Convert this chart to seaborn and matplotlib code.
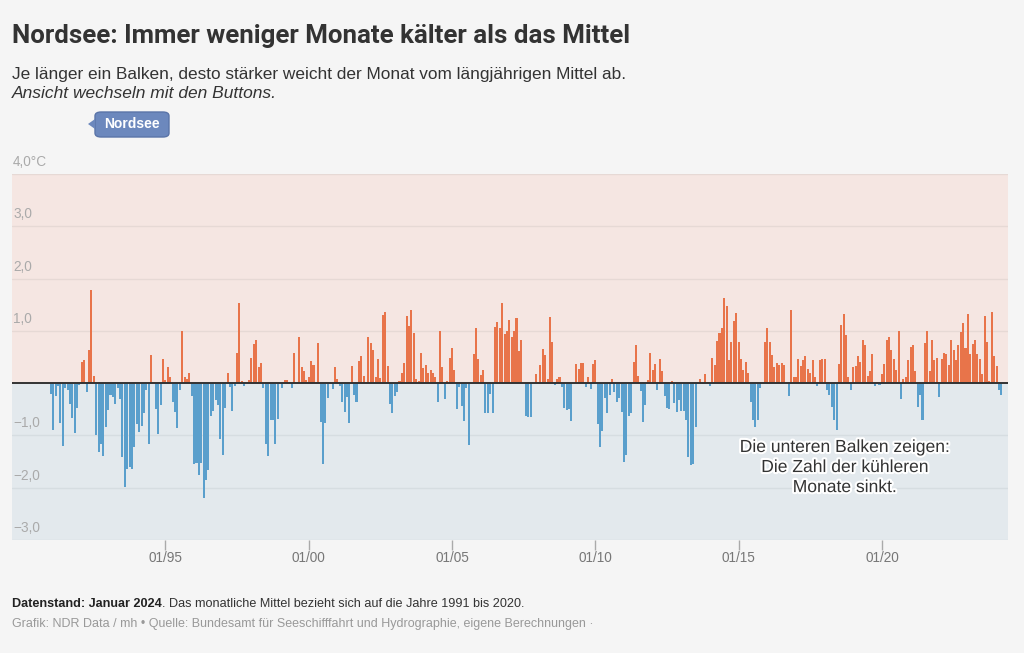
import numpy as np
import pandas as pd
import seaborn as sns
import matplotlib.pyplot as plt
import matplotlib.patheffects as pe
from matplotlib.patches import FancyBboxPatch, Polygon

# Abweichung der Nordsee-Monatstemperatur vom Mittel 1991-2020 (in °C)
j1991 = [-0.2, -0.9, -0.25, -0.05, -0.76, -1.21, -0.1, -0.13, -0.4, -0.66, -0.95, -0.47]
j1992 = [-0.03, 0.4, 0.44, -0.17, 0.63, 1.79, 0.13, -1.0, -1.32, -1.16, -1.4, -0.84]
j1993 = [-0.52, -0.23, -0.26, -0.39, -0.1, -0.3, -1.42, -1.99, -1.64, -1.61, -1.64, -1.22]
j1994 = [-0.78, -0.94, -0.82, -0.58, -0.13, -1.16, 0.54, 0.02, -0.49, -0.98, -0.42, 0.46]
j1995 = [0.06, 0.31, 0.12, -0.36, -0.55, -0.86, -0.13, 1.0, 0.11, 0.07, 0.19, -0.25]
j1996 = [-1.54, -1.53, -1.75, -1.53, -2.19, -1.85, -1.67, -0.62, -0.54, -0.33, -0.42, -1.06]
j1997 = [-1.38, -0.47, 0.2, -0.07, -0.54, -0.06, 0.58, 1.54, 0.04, -0.06, 0.0, 0.06]
j1998 = [0.49, 0.74, 0.83, 0.31, 0.38, -0.1, -1.16, -1.4, -0.71, -0.71, -1.16, -0.69]
j1999 = [0.0, -0.1, 0.06, 0.06, 0.03, -0.09, 0.58, 0.0, 0.88, 0.31, 0.24, 0.06]
j2000 = [0.12, 0.42, 0.35, 0.0, 0.76, -0.74, -1.54, -0.76, -0.29, 0.0, -0.12, 0.3]
j2001 = [0.08, -0.06, -0.36, -0.55, -0.26, -0.76, 0.33, -0.23, -0.36, 0.43, 0.52, 0.13]
j2002 = [0.0, 0.88, 0.76, 0.63, 0.12, 0.46, 0.09, 1.31, 1.37, 0.33, -0.4, -0.57]
j2003 = [-0.25, -0.17, 0.04, 0.2, 0.39, 1.28, 1.1, 1.39, 0.96, 0.07, 0.04, 0.58]
j2004 = [0.29, 0.35, 0.19, 0.25, 0.2, 0.11, -0.36, 0.99, 0.31, -0.31, 0.04, 0.49]
j2005 = [0.67, 0.25, -0.49, -0.07, -0.44, -0.73, -0.1, -1.18, 0.0, 0.56, 1.05, 0.47]
j2006 = [0.15, 0.26, -0.58, -0.58, -0.2, -0.57, 1.07, 1.16, 1.05, 1.53, 0.94, 1.0]
j2007 = [1.21, 0.89, 0.99, 1.24, 0.62, 0.83, 0.0, -0.62, -0.65, -0.65, 0.0, 0.17]
j2008 = [0.03, 0.35, 0.65, 0.54, 0.07, 1.26, 0.78, -0.04, 0.07, 0.12, -0.07, -0.47]
j2009 = [-0.52, -0.49, -0.73, 0.0, 0.36, 0.28, 0.38, 0.39, -0.08, 0.11, -0.12, 0.36]
j2010 = [0.44, -0.78, -1.22, -0.92, -0.29, -0.57, -0.23, 0.08, -0.17, -0.36, -0.29, -0.55]
j2011 = [-1.51, -1.38, -0.62, -0.57, 0.41, 0.73, 0.13, -0.15, -0.74, -0.42, 0.06, 0.58]
j2012 = [0.26, 0.37, -0.13, 0.46, 0.23, -0.24, -0.47, -0.5, 0.04, -0.38, -0.55, -0.33]
j2013 = [-0.53, -0.53, -0.71, -1.42, -1.56, -1.54, -0.84, 0.0, 0.08, -0.02, 0.17, 0.03]
j2014 = [-0.06, 0.49, 0.35, 0.81, 0.96, 1.05, 1.63, 1.47, 0.44, 0.78, 1.18, 1.35]
j2015 = [0.78, 0.46, 0.25, 0.41, 0.2, -0.36, -0.71, -0.83, -0.71, -0.1, 0.0, 0.79]
j2016 = [1.05, 0.78, 0.54, 0.3, 0.38, 0.35, 0.38, 0.35, 0.0, -0.25, 1.39, 0.12]
j2017 = [0.12, 0.46, 0.33, 0.44, 0.51, 0.28, 0.19, 0.44, 0.12, -0.06, 0.44, 0.46]
j2018 = [0.46, -0.13, -0.23, -0.45, -0.71, -0.9, 0.37, 1.12, 1.33, 0.92, 0.12, -0.13]
j2019 = [0.3, 0.33, 0.52, 0.41, 0.83, 0.73, 0.13, 0.24, 0.56, -0.06, 0.03, -0.04]
j2020 = [0.17, 0.36, 0.83, 0.89, 0.63, 0.46, 0.25, 1.0, -0.31, 0.08, 0.12, 0.44]
j2021 = [0.7, 0.73, 0.24, -0.45, -0.23, -0.7, 0.76, 0.99, 0.24, 0.83, 0.44, 0.49]
j2022 = [-0.26, 0.47, 0.58, 0.56, 0.35, 0.83, 0.63, 0.44, 0.73, 0.97, 1.15, 0.67]
j2023 = [1.33, 0.56, 0.75, 0.83, 0.56, 0.47, 0.17, 1.28, 0.79, 0.04, 1.37, 0.51]
j2024 = [0.33, -0.13, -0.23]

jahre = [j1991, j1992, j1993, j1994, j1995, j1996, j1997, j1998, j1999, j2000,
         j2001, j2002, j2003, j2004, j2005, j2006, j2007, j2008, j2009, j2010,
         j2011, j2012, j2013, j2014, j2015, j2016, j2017, j2018, j2019, j2020,
         j2021, j2022, j2023, j2024]

tick_jahre = [1995, 2000, 2005, 2010, 2015, 2020]
tick_labels = ["01/95", "01/00", "01/05", "01/10", "01/15", "01/20"]
y_werte = [4, 3, 2, 1, -1, -2, -3]
y_labels = ["4,0°C", "3,0", "2,0", "1,0", "−1,0", "−2,0", "−3,0"]

ORANGE = "#e8744a"
BLAU = "#5a9fcc"
BG = "#f5f5f5"
ROSA = "#f5e6e2"
HELLBLAU = "#e3e9ed"

werte = np.concatenate(jahre)
df = pd.DataFrame({"pos": np.arange(len(werte)), "wert": werte})
df["art"] = np.where(df["wert"] >= 0, "waermer", "kaelter")

sns.set_theme(style="white")
plt.rcParams['font.family'] = ['Liberation Sans', 'DejaVu Sans']

W, H = 1024, 653
def px(x, y):
    return x / W, 1 - y / H

fig = plt.figure(figsize=(W / 100, H / 100), dpi=100, facecolor=BG)
ax = fig.add_axes([12 / W, 1 - 540 / H, 996 / W, 366 / H])
ax.set_facecolor("none")

ax.axhspan(0, 4, color=ROSA, zorder=0, lw=0)
ax.axhspan(-3, 0, color=HELLBLAU, zorder=0, lw=0)
for v in [1, 2, 3, 4]:
    ax.axhline(v, color="#e6d9d5", lw=1, zorder=0.5)
for v in [-1, -2, -3]:
    ax.axhline(v, color="#d6dde1", lw=1, zorder=0.5)

sns.barplot(data=df, x="pos", y="wert", hue="art",
            palette={"waermer": ORANGE, "kaelter": BLAU},
            native_scale=True, dodge=False, width=0.85, saturation=1,
            errorbar=None, legend=False, linewidth=0, ax=ax, zorder=2)

ax.axhline(0, color="#333333", lw=1.4, zorder=3)

ax.set_xlim(-16.25, 400.8)
ax.set_ylim(-3, 4)
ax.set_xticks([(j - 1991) * 12 for j in tick_jahre])
ax.set_xticklabels(tick_labels)
ax.tick_params(axis="x", length=7, width=1, color="#aaaaaa", labelcolor="#777777",
               labelsize=9.8, pad=1, bottom=True, direction="out")
ax.set_yticks([])
ax.set_xlabel("")
ax.set_ylabel("")
sns.despine(ax=ax, left=True, bottom=True)

for v, lbl in zip(y_werte, y_labels):
    ax.annotate(lbl, xy=(0, v), xycoords=("axes fraction", "data"),
                xytext=(1, 5), textcoords="offset pixels",
                ha="left", va="bottom", fontsize=9.8, color="#aaaaaa")

ax.text(0.836, 0.198, "Die unteren Balken zeigen:\nDie Zahl der kühleren\nMonate sinkt.",
        transform=ax.transAxes, ha="center", va="center", multialignment="center",
        fontsize=12.6, color="#333333", linespacing=1.42, zorder=5,
        path_effects=[pe.withStroke(linewidth=3, foreground="white")])

# Kopf
fig.text(*px(12, 43), "Nordsee: Immer weniger Monate kälter als das Mittel",
         fontsize=18.6, fontweight="bold", color="#333333", va="baseline",
         family=["Roboto", "DejaVu Sans"])
fig.text(*px(12, 79), "Je länger ein Balken, desto stärker weicht der Monat vom längjährigen Mittel ab.",
         fontsize=12.4, color="#333333", va="baseline")
fig.text(*px(12, 98), "Ansicht wechseln mit den Buttons.",
         fontsize=12.5, color="#333333", va="baseline", style="italic")

# Button
knopf = FancyBboxPatch(px(95, 137), 74 / W, 25 / H, boxstyle="round,pad=0,rounding_size=0.006",
                       transform=fig.transFigure, facecolor="#6c88bd", edgecolor="#5a74a8",
                       lw=1, zorder=1)
fig.patches.append(knopf)
spitze = Polygon([px(95, 119), px(88, 124), px(95, 129)], closed=True,
                 transform=fig.transFigure, facecolor="#6c88bd", edgecolor="none")
fig.patches.append(spitze)
fig.text(*px(132, 124), "Nordsee", ha="center", va="center", fontsize=10,
         fontweight="bold", color="white")

# Fuß
r = fig.canvas.get_renderer()
t1 = fig.text(*px(12, 607), "Datenstand: Januar 2024", fontsize=9.1, fontweight="bold",
              color="#222222", va="baseline")
bb = t1.get_window_extent(renderer=r)
fig.text(bb.x1 / W, 1 - 607 / H, ". Das monatliche Mittel bezieht sich auf die Jahre 1991 bis 2020.",
         fontsize=9.1, color="#333333", va="baseline")
fig.text(*px(12, 627), "Grafik: NDR Data / mh • Quelle: Bundesamt für Seeschifffahrt und Hydrographie, eigene Berechnungen ·",
         fontsize=9.0, color="#999999", va="baseline")

fig.savefig("out.png", dpi=100, facecolor=BG)
